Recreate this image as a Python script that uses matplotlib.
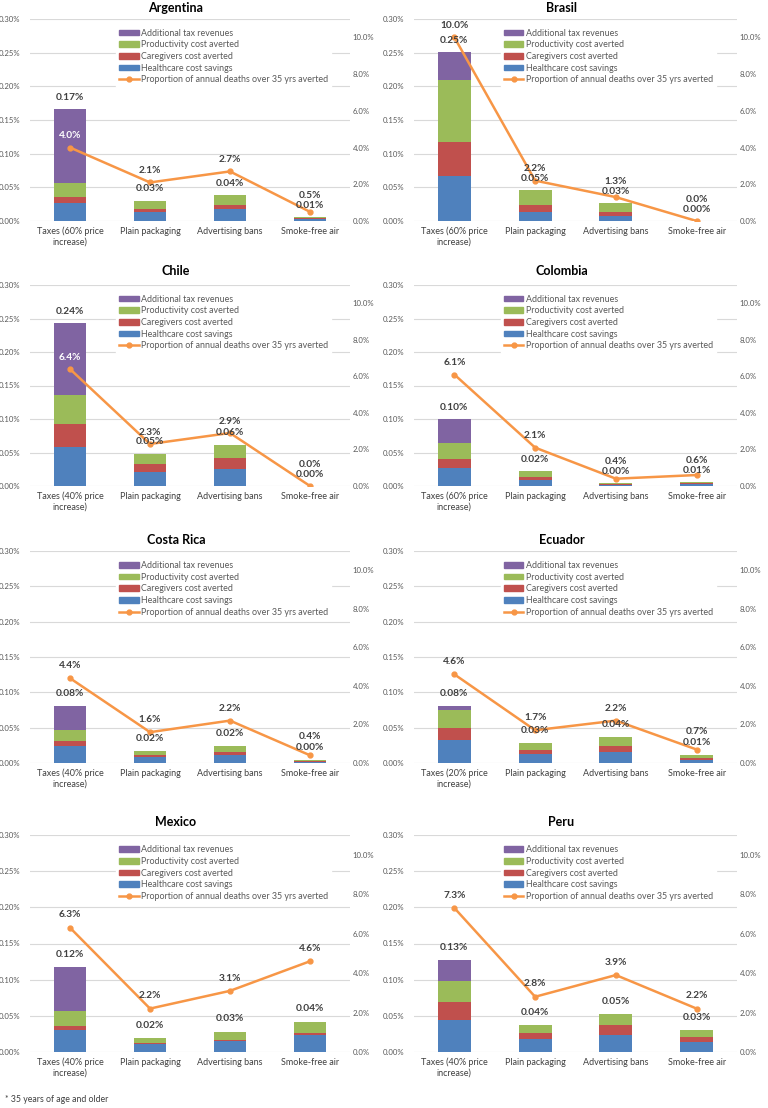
import matplotlib
matplotlib.use("Agg")
import matplotlib.pyplot as plt
from matplotlib.patches import Patch
from matplotlib.lines import Line2D
import numpy as np

plt.rcParams['font.family'] = ['Lato', 'DejaVu Sans']

# ~~~~~~~~ data ~~~~~~~~
countries = ["Argentina", "Brasil", "Chile", "Colombia",
             "Costa Rica", "Ecuador", "Mexico", "Peru"]
tax_increase = ["60%", "60%", "40%", "60%", "40%", "20%", "40%", "40%"]
other_policies = ["Plain packaging", "Advertising bans", "Smoke-free air"]

# % of GDP, order: taxes, plain packaging, advertising bans, smoke-free air
healthcare = [
    [0.026, 0.014, 0.0174, 0.0025],
    [0.067, 0.013, 0.007, 0.0],
    [0.0582, 0.0204, 0.0259, 0.0],
    [0.0274, 0.0095, 0.002, 0.0025],
    [0.0235, 0.0085, 0.0118, 0.002],
    [0.033, 0.0127, 0.016, 0.0047],
    [0.0309, 0.0106, 0.0148, 0.0231],
    [0.0442, 0.0175, 0.0239, 0.0133],
]
caregivers = [
    [0.010, 0.0045, 0.0069, 0.0015],
    [0.051, 0.011, 0.007, 0.0],
    [0.0348, 0.0124, 0.0164, 0.0],
    [0.0134, 0.0044, 0.001, 0.0015],
    [0.0071, 0.0028, 0.0037, 0.001],
    [0.0165, 0.0057, 0.008, 0.0023],
    [0.0056, 0.0014, 0.0023, 0.0037],
    [0.0248, 0.0087, 0.0134, 0.0074],
]
productivity = [
    [0.020, 0.0118, 0.014, 0.002],
    [0.0915, 0.022, 0.0125, 0.0],
    [0.0428, 0.0155, 0.0194, 0.0],
    [0.0234, 0.0085, 0.001, 0.002],
    [0.0156, 0.0061, 0.008, 0.0017],
    [0.0249, 0.0094, 0.0127, 0.0048],
    [0.0198, 0.0074, 0.011, 0.0152],
    [0.0286, 0.0106, 0.0152, 0.0093],
]
tax_revenue = [
    [0.110, 0, 0, 0],
    [0.0415, 0, 0, 0],
    [0.107, 0, 0, 0],
    [0.0358, 0, 0, 0],
    [0.0338, 0, 0, 0],
    [0.0056, 0, 0, 0],
    [0.0609, 0, 0, 0],
    [0.029, 0, 0, 0],
]
# proportion of annual deaths over 35 yrs averted (%)
deaths_averted = [
    [4.0, 2.1, 2.7, 0.5],
    [10.0, 2.2, 1.3, 0.0],
    [6.4, 2.3, 2.9, 0.0],
    [6.1, 2.1, 0.4, 0.6],
    [4.4, 1.6, 2.2, 0.4],
    [4.6, 1.7, 2.2, 0.7],
    [6.3, 2.2, 3.1, 4.6],
    [7.3, 2.8, 3.9, 2.2],
]

c_blue, c_red, c_green, c_purple, c_orange = "#4F81BD", "#C0504D", "#9BBB59", "#8064A2", "#F79646"
txt_dark = "#404040"
txt_gray = "#595959"
grid_c = "#D9D9D9"

W, H = 768, 1108
fig = plt.figure(figsize=(W / 100, H / 100), dpi=100)

cols = [(30, 320), (414, 323)]
rows = [(19, 221), (285, 486), (551, 763), (835, 1052)]
title_y = [8, 271, 540, 822]

LMAX, RMAX = 0.30, 11.0


def draw_panel(i):
    r, c = divmod(i, 2)
    x0, w = cols[c]
    top, bot = rows[r]
    ax = fig.add_axes([x0 / W, 1 - bot / H, w / W, (bot - top) / H])
    ax2 = ax.twinx()

    x = np.arange(4)
    hc = np.array(healthcare[i])
    cg = np.array(caregivers[i])
    pr = np.array(productivity[i])
    tx = np.array(tax_revenue[i])
    bw = 0.41
    ax.bar(x, hc, bw, color=c_blue, zorder=2)
    ax.bar(x, cg, bw, bottom=hc, color=c_red, zorder=2)
    ax.bar(x, pr, bw, bottom=hc + cg, color=c_green, zorder=2)
    ax.bar(x, tx, bw, bottom=hc + cg + pr, color=c_purple, zorder=2)
    total = hc + cg + pr + tx

    d = np.array(deaths_averted[i])
    ax2.plot(x, d, color=c_orange, lw=1.8, marker='o', ms=3.5, zorder=3)

    ax.set_xlim(-0.5, 3.5)
    ax.set_ylim(0, LMAX)
    ax2.set_ylim(0, RMAX)
    ax.set_yticks(np.arange(0, 0.301, 0.05))
    ax.set_yticklabels(["%.2f%%" % v for v in np.arange(0, 0.301, 0.05)])
    ax2.set_yticks(np.arange(0, 10.1, 2))
    ax2.set_yticklabels(["%.1f%%" % v for v in np.arange(0, 10.1, 2)])
    ax.grid(axis='y', color=grid_c, lw=0.8, zorder=0)
    ax.set_axisbelow(True)
    for a in (ax, ax2):
        for s in a.spines.values():
            s.set_visible(False)
    ax.tick_params(axis='y', length=0, labelsize=5.6, labelcolor=txt_gray, pad=7)
    ax2.tick_params(axis='y', length=0, labelsize=5.6, labelcolor=txt_gray, pad=2)
    ax.set_xticks(x)
    ax.set_xticklabels(["Taxes (%s price\nincrease)" % tax_increase[i]] + other_policies)
    ax.tick_params(axis='x', length=0, labelsize=6.5, labelcolor=txt_dark, pad=4)

    # data labels, all in left-axis units
    off = 0.059 * LMAX
    for k in range(4):
        yb = total[k] + off
        yl = d[k] * LMAX / RMAX + off
        if abs(yl - yb) < 0.014:
            yl = yb + 0.0145
        col = "white" if yl < total[k] else txt_dark
        ax2.text(x[k], yb, "%.2f%%" % total[k], transform=ax.transData,
                 ha='center', va='center', fontsize=7.3, fontweight='bold',
                 color=txt_dark, zorder=5)
        ax2.text(x[k], yl, "%.1f%%" % d[k], transform=ax.transData,
                 ha='center', va='center', fontsize=7.3, fontweight='bold',
                 color=col, zorder=5)

    handles = [Patch(color=c_purple), Patch(color=c_green),
               Patch(color=c_red), Patch(color=c_blue),
               Line2D([], [], color=c_orange, lw=1.8, marker='o', ms=3.5)]
    labels = ["Additional tax revenues", "Productivity cost averted",
              "Caregivers cost averted", "Healthcare cost savings",
              "Proportion of annual deaths over 35 yrs averted"]
    leg = ax2.legend(handles, labels, loc='upper left', bbox_to_anchor=(0.27, 0.965),
                     fontsize=6.4, frameon=True, framealpha=1, facecolor='white',
                     edgecolor='white', fancybox=False, borderpad=0.3,
                     labelspacing=0.3, handlelength=2.2, handleheight=0.6,
                     handletextpad=0.3, borderaxespad=0)
    for t in leg.get_texts():
        t.set_color(txt_gray)

    fig.text((x0 + w / 2 - 14) / W, 1 - title_y[r] / H, countries[i],
             ha='center', va='center', fontsize=9, fontweight='bold', color='black')


for i in range(8):
    draw_panel(i)

fig.text(5 / W, 1 - 1100 / H, "* 35 years of age and older", ha='left', va='center',
         fontsize=6.3, color=txt_dark)

plt.savefig("out.png", dpi=100)
